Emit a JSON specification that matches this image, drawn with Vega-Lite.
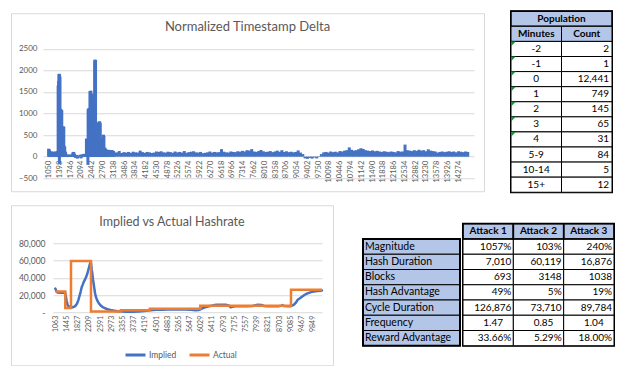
{
  "$schema": "https://vega.github.io/schema/vega-lite/v6.json",
  "padding": {"left": 10, "top": 9, "right": 0, "bottom": 0},
  "background": "white",
  "config": {"font": "Lato", "view": {"stroke": null}},
  "spacing": 10,
  "resolve": {"scale": {"color": "independent"}, "legend": {"color": "independent"}},
  "vconcat": [
    {
      "hconcat": [
        {
          "width": 473,
          "height": 178,
          "view": {"stroke": "#D9D9D9", "fill": "white"},
          "title": {"text": "Normalized Timestamp Delta", "fontSize": 13, "fontWeight": "normal", "color": "#595959", "anchor": "middle", "frame": "group", "offset": -21},
          "data": {"values": [
            {"b":1050,"v":185},{"b":1065,"v":175},{"b":1080,"v":150},{"b":1095,"v":125},{"b":1120,"v":110},{"b":1150,"v":120},{"b":1180,"v":105},{"b":1210,"v":115},{"b":1240,"v":100},{"b":1270,"v":120},{"b":1300,"v":110},{"b":1330,"v":125},{"b":1345,"v":120},
            {"b":1357,"v":1650},{"b":1372,"v":1750},{"b":1385,"v":1910},{"b":1392,"v":1920},{"b":1398,"v":-170},{"b":1405,"v":1900},{"b":1415,"v":1850},{"b":1430,"v":1100},{"b":1445,"v":1110},{"b":1460,"v":1050},{"b":1475,"v":1080},{"b":1490,"v":650},{"b":1505,"v":700},{"b":1520,"v":680},{"b":1540,"v":700},{"b":1555,"v":250},{"b":1570,"v":230},{"b":1585,"v":120},{"b":1600,"v":100},
            {"b":1620,"v":45},{"b":1650,"v":40},{"b":1680,"v":50},{"b":1710,"v":45},{"b":1740,"v":40},{"b":1770,"v":50},{"b":1800,"v":45},{"b":1830,"v":95},{"b":1850,"v":110},{"b":1870,"v":100},{"b":1890,"v":60},
            {"b":1920,"v":-30},{"b":1950,"v":40},{"b":1980,"v":-45},{"b":2010,"v":30},{"b":2040,"v":-20},{"b":2070,"v":45},{"b":2100,"v":-40},{"b":2130,"v":55},{"b":2160,"v":40},{"b":2190,"v":65},{"b":2220,"v":50},{"b":2250,"v":60},
            {"b":2270,"v":420},{"b":2285,"v":410},{"b":2300,"v":380},{"b":2318,"v":-190},{"b":2325,"v":1100},{"b":2340,"v":1120},{"b":2355,"v":1080},{"b":2370,"v":1130},{"b":2385,"v":1520},{"b":2400,"v":1500},{"b":2415,"v":1530},{"b":2430,"v":1450},{"b":2445,"v":1400},{"b":2460,"v":1460},{"b":2475,"v":1430},{"b":2490,"v":1440},{"b":2505,"v":1100},{"b":2520,"v":1050},{"b":2537,"v":2230},{"b":2550,"v":2250},{"b":2565,"v":2240},{"b":2580,"v":750},{"b":2595,"v":520},{"b":2610,"v":780},{"b":2625,"v":480},{"b":2640,"v":350},{"b":2655,"v":500},{"b":2670,"v":810},{"b":2685,"v":800},{"b":2700,"v":820},{"b":2715,"v":780},{"b":2730,"v":400},{"b":2745,"v":380},{"b":2760,"v":420},{"b":2775,"v":350},{"b":2790,"v":300},{"b":2805,"v":500},{"b":2820,"v":510},{"b":2835,"v":480},{"b":2850,"v":200},{"b":2870,"v":210},{"b":2890,"v":180},{"b":2910,"v":160},
            {"b":2940,"v":150},{"b":2970,"v":160},{"b":3000,"v":140},{"b":3030,"v":150},{"b":3060,"v":145},{"b":3090,"v":155},{"b":3120,"v":140},{"b":3150,"v":130},
            {"b":3180,"v":90},{"b":3255,"v":100},{"b":3330,"v":130},{"b":3405,"v":85},{"b":3480,"v":105},{"b":3555,"v":95},{"b":3630,"v":110},{"b":3705,"v":90},{"b":3780,"v":115},{"b":3855,"v":100},{"b":3930,"v":95},{"b":4005,"v":140},{"b":4080,"v":105},{"b":4155,"v":90},{"b":4230,"v":110},{"b":4305,"v":100},{"b":4380,"v":85},{"b":4455,"v":95},{"b":4530,"v":120},{"b":4605,"v":110},{"b":4680,"v":125},{"b":4755,"v":100},{"b":4830,"v":95},{"b":4905,"v":115},{"b":4980,"v":105},{"b":5055,"v":90},{"b":5130,"v":120},{"b":5205,"v":100},{"b":5280,"v":110},{"b":5355,"v":95},{"b":5430,"v":130},{"b":5505,"v":90},{"b":5580,"v":105},{"b":5655,"v":115},{"b":5730,"v":125},{"b":5805,"v":100},{"b":5880,"v":95},{"b":5955,"v":110},{"b":6030,"v":80},{"b":6105,"v":90},{"b":6180,"v":100},{"b":6255,"v":120},{"b":6330,"v":95},{"b":6405,"v":110},{"b":6480,"v":100},{"b":6555,"v":105},{"b":6630,"v":175},{"b":6705,"v":115},{"b":6780,"v":100},{"b":6855,"v":95},{"b":6930,"v":120},{"b":7005,"v":110},{"b":7080,"v":105},{"b":7155,"v":125},{"b":7230,"v":115},{"b":7305,"v":135},{"b":7380,"v":120},{"b":7455,"v":150},{"b":7530,"v":140},{"b":7605,"v":175},{"b":7680,"v":120},{"b":7755,"v":110},{"b":7830,"v":130},{"b":7905,"v":155},{"b":7980,"v":125},{"b":8055,"v":110},{"b":8130,"v":115},{"b":8205,"v":130},{"b":8280,"v":105},{"b":8355,"v":120},{"b":8430,"v":140},{"b":8505,"v":115},{"b":8580,"v":150},{"b":8655,"v":110},{"b":8730,"v":125},{"b":8805,"v":105},{"b":8880,"v":115},{"b":8955,"v":100},{"b":9030,"v":110},{"b":9105,"v":145},{"b":9180,"v":95},{"b":9255,"v":60},
            {"b":9330,"v":-40},{"b":9405,"v":-50},{"b":9480,"v":-30},{"b":9555,"v":-45},{"b":9630,"v":-20},{"b":9705,"v":-40},{"b":9780,"v":10},{"b":9855,"v":60},
            {"b":9930,"v":100},{"b":10005,"v":110},{"b":10080,"v":95},{"b":10155,"v":120},{"b":10230,"v":105},{"b":10305,"v":115},{"b":10380,"v":100},{"b":10455,"v":130},{"b":10530,"v":120},{"b":10605,"v":140},{"b":10680,"v":150},{"b":10755,"v":215},{"b":10830,"v":160},{"b":10905,"v":140},{"b":10980,"v":150},{"b":11055,"v":170},{"b":11130,"v":195},{"b":11205,"v":180},{"b":11280,"v":150},{"b":11355,"v":140},{"b":11430,"v":130},{"b":11505,"v":145},{"b":11580,"v":125},{"b":11655,"v":135},{"b":11730,"v":120},{"b":11805,"v":110},{"b":11880,"v":125},{"b":11955,"v":115},{"b":12030,"v":105},{"b":12105,"v":120},{"b":12180,"v":110},{"b":12255,"v":100},{"b":12330,"v":130},{"b":12405,"v":115},{"b":12480,"v":120},{"b":12555,"v":280},{"b":12630,"v":150},{"b":12705,"v":140},{"b":12780,"v":130},{"b":12855,"v":150},{"b":12930,"v":135},{"b":13005,"v":160},{"b":13080,"v":140},{"b":13155,"v":150},{"b":13230,"v":125},{"b":13305,"v":170},{"b":13380,"v":140},{"b":13455,"v":130},{"b":13530,"v":120},{"b":13605,"v":95},{"b":13680,"v":110},{"b":13755,"v":120},{"b":13830,"v":105},{"b":13905,"v":115},{"b":13980,"v":125},{"b":14055,"v":110},{"b":14130,"v":120},{"b":14205,"v":100},{"b":14280,"v":125},{"b":14355,"v":115},{"b":14430,"v":105},{"b":14505,"v":120},{"b":14580,"v":110}
          ]},
          "mark": {"type": "bar", "width": 3, "color": "#4472C4"},
          "encoding": {
            "x": {"field": "b", "type": "quantitative",
              "scale": {"domain": [1030, 14620], "range": [32, 463], "nice": false, "zero": false},
              "axis": {"title": null, "values": [1050,1398,1746,2094,2442,2790,3138,3486,3834,4182,4530,4878,5226,5574,5922,6270,6618,6966,7314,7662,8010,8358,8706,9054,9402,9750,10098,10446,10794,11142,11490,11838,12186,12534,12882,13230,13578,13926,14274],
                "format": "d", "labelAngle": -90, "offset": -34, "domain": false, "ticks": false, "grid": false,
                "labelFontSize": 7.5, "labelColor": "#595959", "labelPadding": 3, "labelOverlap": false, "labelFlush": false, "labelBound": false}},
            "y": {"field": "v", "type": "quantitative",
              "scale": {"domain": [-500, 2500], "range": [165, 35.5], "nice": false, "zero": false},
              "axis": {"title": null, "values": [-500,0,500,1000,1500,2000,2500], "format": "d", "offset": -28, "domain": false, "ticks": false,
                "grid": true, "gridColor": "#D9D9D9", "labelFontSize": 8, "labelColor": "#595959", "labelPadding": 2}},
            "y2": {"datum": 0}
          }
        },
        {
          "width": 101,
          "height": 181,
          "view": {"stroke": "black", "strokeWidth": 2},
          "data": {"values": [
            {"r":"Population","c":"Span","t":"Population"},
            {"r":"Header","c":"Minutes","t":"Minutes"},{"r":"Header","c":"Count","t":"Count"},
            {"r":"-2","c":"Minutes","t":"-2"},{"r":"-2","c":"Count","t":"2"},
            {"r":"-1","c":"Minutes","t":"-1"},{"r":"-1","c":"Count","t":"1"},
            {"r":"0","c":"Minutes","t":"0"},{"r":"0","c":"Count","t":"12,441"},
            {"r":"1","c":"Minutes","t":"1"},{"r":"1","c":"Count","t":"749"},
            {"r":"2","c":"Minutes","t":"2"},{"r":"2","c":"Count","t":"145"},
            {"r":"3","c":"Minutes","t":"3"},{"r":"3","c":"Count","t":"65"},
            {"r":"4","c":"Minutes","t":"4"},{"r":"4","c":"Count","t":"31"},
            {"r":"5-9","c":"Minutes","t":"5-9"},{"r":"5-9","c":"Count","t":"84"},
            {"r":"10-14","c":"Minutes","t":"10-14"},{"r":"10-14","c":"Count","t":"5"},
            {"r":"15+","c":"Minutes","t":"15+"},{"r":"15+","c":"Count","t":"12"}
          ]},
          "encoding": {
            "y": {"field": "r", "type": "nominal", "axis": null,
              "scale": {"domain": ["Population","Header","-2","-1","0","1","2","3","4","5-9","10-14","15+"], "paddingInner": 0, "paddingOuter": 0}}
          },
          "layer": [
            {"transform": [{"filter": "datum.c === 'Span'"}],
             "mark": {"type": "rect", "fill": "#B4C6E7", "stroke": "black", "strokeWidth": 1.5}},
            {"transform": [{"filter": "datum.c === 'Span'"}],
             "mark": {"type": "text", "fontWeight": "bold", "fontSize": 10, "color": "black"},
             "encoding": {"text": {"field": "t"}}},
            {"transform": [{"filter": "datum.c !== 'Span'"}],
             "mark": {"type": "rect", "stroke": "black", "strokeWidth": 1},
             "encoding": {
               "x": {"field": "c", "type": "nominal", "axis": null, "scale": {"domain": ["Minutes","Count"], "paddingInner": 0, "paddingOuter": 0}},
               "fill": {"condition": {"test": "datum.r === 'Header'", "value": "#B4C6E7"}, "value": "white"}}},
            {"transform": [{"filter": "datum.c === 'Minutes' && (datum.r === '-2' || datum.r === '-1' || datum.r === '0' || datum.r === '1' || datum.r === '2' || datum.r === '3' || datum.r === '4')"}],
             "mark": {"type": "point", "shape": "M0,0L1,0L0,1Z", "filled": true, "size": 90, "fill": "#1A8F3C", "fillOpacity": 1, "opacity": 1, "strokeWidth": 0},
             "encoding": {"x": {"field": "c", "type": "nominal", "bandPosition": 0}, "y": {"field": "r", "type": "nominal", "bandPosition": 0}}},
            {"transform": [{"filter": "datum.r === 'Header'"}],
             "mark": {"type": "text", "fontWeight": "bold", "fontSize": 10, "color": "black"},
             "encoding": {"x": {"field": "c", "type": "nominal"}, "text": {"field": "t"}}},
            {"transform": [{"filter": "datum.c === 'Minutes' && datum.r !== 'Header'"}],
             "mark": {"type": "text", "fontSize": 10, "color": "black"},
             "encoding": {"x": {"field": "c", "type": "nominal"}, "text": {"field": "t"}}},
            {"transform": [{"filter": "datum.c === 'Count' && datum.r !== 'Header'"}],
             "mark": {"type": "text", "fontSize": 10, "color": "black", "align": "right", "dx": -3},
             "encoding": {"x": {"field": "c", "type": "nominal", "bandPosition": 1}, "text": {"field": "t"}}}
          ]
        }
      ],
      "spacing": 24,
      "center": true
    },
    {
      "hconcat": [
        {
          "width": 322,
          "height": 160,
          "view": {"stroke": "#D9D9D9", "fill": "white"},
          "title": {"text": "Implied vs Actual Hashrate", "fontSize": 12.5, "fontWeight": "normal", "color": "#595959", "anchor": "middle", "frame": "group", "offset": -23},
          "data": {"values": [
            {"s":"Implied","b":1063,"v":27500},{"s":"Implied","b":1100,"v":24500},{"s":"Implied","b":1145,"v":22800},{"s":"Implied","b":1250,"v":22500},{"s":"Implied","b":1350,"v":22500},{"s":"Implied","b":1404,"v":22000},{"s":"Implied","b":1430,"v":17000},{"s":"Implied","b":1452,"v":13000},{"s":"Implied","b":1486,"v":8000},{"s":"Implied","b":1541,"v":6500},{"s":"Implied","b":1600,"v":5800},{"s":"Implied","b":1657,"v":5800},{"s":"Implied","b":1735,"v":6800},{"s":"Implied","b":1803,"v":9800},{"s":"Implied","b":1850,"v":14000},{"s":"Implied","b":1882,"v":18000},{"s":"Implied","b":1930,"v":24000},{"s":"Implied","b":1964,"v":29000},{"s":"Implied","b":2000,"v":32000},{"s":"Implied","b":2032,"v":35000},{"s":"Implied","b":2070,"v":37500},{"s":"Implied","b":2111,"v":40500},{"s":"Implied","b":2150,"v":44000},{"s":"Implied","b":2190,"v":49000},{"s":"Implied","b":2230,"v":54000},{"s":"Implied","b":2258,"v":57500},{"s":"Implied","b":2275,"v":58500},{"s":"Implied","b":2290,"v":55000},{"s":"Implied","b":2305,"v":50000},{"s":"Implied","b":2330,"v":44000},{"s":"Implied","b":2350,"v":38000},{"s":"Implied","b":2394,"v":28000},{"s":"Implied","b":2420,"v":22000},{"s":"Implied","b":2452,"v":17500},{"s":"Implied","b":2490,"v":14000},{"s":"Implied","b":2531,"v":11500},{"s":"Implied","b":2580,"v":9000},{"s":"Implied","b":2623,"v":7500},{"s":"Implied","b":2680,"v":6000},{"s":"Implied","b":2735,"v":5000},{"s":"Implied","b":2820,"v":3800},{"s":"Implied","b":2906,"v":3000},{"s":"Implied","b":3000,"v":2200},{"s":"Implied","b":3077,"v":1800},{"s":"Implied","b":3200,"v":1200},{"s":"Implied","b":3350,"v":800},{"s":"Implied","b":3500,"v":600},{"s":"Implied","b":3700,"v":700},{"s":"Implied","b":3900,"v":1000},{"s":"Implied","b":4100,"v":1500},{"s":"Implied","b":4300,"v":2200},{"s":"Implied","b":4500,"v":2800},{"s":"Implied","b":4700,"v":3000},{"s":"Implied","b":4900,"v":3100},{"s":"Implied","b":5100,"v":3200},{"s":"Implied","b":5300,"v":3200},{"s":"Implied","b":5500,"v":3100},{"s":"Implied","b":5700,"v":2800},{"s":"Implied","b":5850,"v":2300},{"s":"Implied","b":5950,"v":2500},{"s":"Implied","b":6029,"v":3500},{"s":"Implied","b":6100,"v":4800},{"s":"Implied","b":6200,"v":6000},{"s":"Implied","b":6300,"v":7000},{"s":"Implied","b":6400,"v":7500},{"s":"Implied","b":6485,"v":8300},{"s":"Implied","b":6600,"v":8700},{"s":"Implied","b":6750,"v":8800},{"s":"Implied","b":6900,"v":8600},{"s":"Implied","b":6980,"v":7800},{"s":"Implied","b":7050,"v":5800},{"s":"Implied","b":7100,"v":6500},{"s":"Implied","b":7200,"v":7000},{"s":"Implied","b":7400,"v":7000},{"s":"Implied","b":7600,"v":7100},{"s":"Implied","b":7800,"v":7200},{"s":"Implied","b":7900,"v":8200},{"s":"Implied","b":7970,"v":8600},{"s":"Implied","b":8100,"v":8500},{"s":"Implied","b":8180,"v":7300},{"s":"Implied","b":8300,"v":7000},{"s":"Implied","b":8500,"v":7000},{"s":"Implied","b":8700,"v":7100},{"s":"Implied","b":8780,"v":7500},{"s":"Implied","b":8823,"v":8300},{"s":"Implied","b":8860,"v":7200},{"s":"Implied","b":9000,"v":7000},{"s":"Implied","b":9107,"v":7000},{"s":"Implied","b":9200,"v":8500},{"s":"Implied","b":9280,"v":11500},{"s":"Implied","b":9336,"v":14500},{"s":"Implied","b":9400,"v":16000},{"s":"Implied","b":9480,"v":18000},{"s":"Implied","b":9564,"v":20000},{"s":"Implied","b":9650,"v":21500},{"s":"Implied","b":9720,"v":22500},{"s":"Implied","b":9791,"v":23300},{"s":"Implied","b":9880,"v":24000},{"s":"Implied","b":10000,"v":24500},{"s":"Implied","b":10100,"v":25000},{"s":"Implied","b":10165,"v":25200},
            {"s":"Actual","b":1063,"v":24000},{"s":"Actual","b":1404,"v":5000},{"s":"Actual","b":1599,"v":59500},{"s":"Actual","b":2281,"v":800},{"s":"Actual","b":3300,"v":2200},{"s":"Actual","b":4290,"v":4200},{"s":"Actual","b":6012,"v":7500},{"s":"Actual","b":9107,"v":26000},{"s":"Actual","b":10165,"v":26000}
          ]},
          "encoding": {
            "x": {"field": "b", "type": "quantitative",
              "scale": {"domain": [985, 10165], "range": [42, 311], "nice": false, "zero": false},
              "axis": {"title": null, "values": [1063,1445,1827,2209,2591,2973,3355,3737,4119,4501,4883,5265,5647,6029,6411,6793,7175,7557,7939,8321,8703,9085,9467,9849],
                "format": "d", "labelAngle": -90, "offset": -53, "domain": false, "ticks": false, "grid": false,
                "labelFontSize": 7, "labelColor": "#595959", "labelPadding": 3, "labelOverlap": false, "labelFlush": false, "labelBound": false}},
            "y": {"field": "v", "type": "quantitative",
              "scale": {"domain": [0, 80000], "range": [107, 38], "nice": false, "zero": false},
              "axis": {"title": null, "values": [0,20000,40000,60000,80000], "offset": -36, "domain": false, "ticks": false,
                "labelExpr": "datum.value === 0 ? '-     ' : format(datum.value, ',')",
                "grid": true, "gridColor": "#D9D9D9", "labelFontSize": 8.5, "labelColor": "#595959", "labelPadding": 2}},
            "color": {"field": "s", "type": "nominal",
              "scale": {"domain": ["Implied","Actual"], "range": ["#4472C4","#ED7D31"]},
              "legend": {"title": null, "orient": "none", "legendX": 113, "legendY": 138, "direction": "horizontal",
                "symbolType": "stroke", "symbolSize": 400, "symbolStrokeWidth": 3, "labelFontSize": 8.5, "labelColor": "#595959",
                "columnPadding": 6, "labelOffset": 2}}
          },
          "layer": [
            {"transform": [{"filter": "datum.s === 'Implied'"}],
             "mark": {"type": "line", "strokeWidth": 2.5, "strokeCap": "round", "strokeJoin": "round"}},
            {"transform": [{"filter": "datum.s === 'Actual'"}],
             "mark": {"type": "line", "interpolate": "step-after", "strokeWidth": 2.5}}
          ]
        },
        {
          "hconcat": [
            {
              "width": 97,
              "height": 122,
              "layer": [
                {
                  "data": {"values": [
                    {"r":"Magnitude","c":"Label"},{"r":"Hash Duration","c":"Label"},{"r":"Blocks","c":"Label"},{"r":"Hash Advantage","c":"Label"},{"r":"Cycle Duration","c":"Label"},{"r":"Frequency","c":"Label"},{"r":"Reward Advantage","c":"Label"}
                  ]},
                  "encoding": {
                    "y": {"field": "r", "type": "nominal", "axis": null,
                      "scale": {"domain": ["H","Magnitude","Hash Duration","Blocks","Hash Advantage","Cycle Duration","Frequency","Reward Advantage"], "paddingInner": 0, "paddingOuter": 0}},
                    "x": {"field": "c", "type": "nominal", "axis": null, "scale": {"domain": ["Label"], "paddingInner": 0, "paddingOuter": 0}}
                  },
                  "layer": [
                    {"mark": {"type": "rect", "fill": "#B4C6E7", "stroke": "black", "strokeWidth": 1}},
                    {"mark": {"type": "text", "align": "left", "dx": 2, "fontSize": 10.5, "color": "black"},
                     "encoding": {"x": {"field": "c", "type": "nominal", "bandPosition": 0}, "text": {"field": "r"}}}
                  ]
                },
                {
                  "data": {"values": [{"r1": "Magnitude", "r2": "Reward Advantage"}]},
                  "mark": {"type": "rect", "fill": null, "fillOpacity": 0, "stroke": "black", "strokeWidth": 2},
                  "encoding": {
                    "y": {"field": "r1", "type": "nominal", "bandPosition": 0},
                    "y2": {"field": "r2", "bandPosition": 1}
                  }
                }
              ]
            },
            {
              "width": 151,
              "height": 122,
              "view": {"stroke": "black", "strokeWidth": 2},
              "data": {"values": [
                {"r":"H","c":"Attack 1","t":"Attack 1"},{"r":"H","c":"Attack 2","t":"Attack 2"},{"r":"H","c":"Attack 3","t":"Attack 3"},
                {"r":"Magnitude","c":"Attack 1","t":"1057%"},{"r":"Magnitude","c":"Attack 2","t":"103%"},{"r":"Magnitude","c":"Attack 3","t":"240%"},
                {"r":"Hash Duration","c":"Attack 1","t":"7,010"},{"r":"Hash Duration","c":"Attack 2","t":"60,119"},{"r":"Hash Duration","c":"Attack 3","t":"16,876"},
                {"r":"Blocks","c":"Attack 1","t":"693"},{"r":"Blocks","c":"Attack 2","t":"3148"},{"r":"Blocks","c":"Attack 3","t":"1038"},
                {"r":"Hash Advantage","c":"Attack 1","t":"49%"},{"r":"Hash Advantage","c":"Attack 2","t":"5%"},{"r":"Hash Advantage","c":"Attack 3","t":"19%"},
                {"r":"Cycle Duration","c":"Attack 1","t":"126,876"},{"r":"Cycle Duration","c":"Attack 2","t":"73,710"},{"r":"Cycle Duration","c":"Attack 3","t":"89,784"},
                {"r":"Frequency","c":"Attack 1","t":"1.47"},{"r":"Frequency","c":"Attack 2","t":"0.85"},{"r":"Frequency","c":"Attack 3","t":"1.04"},
                {"r":"Reward Advantage","c":"Attack 1","t":"33.66%"},{"r":"Reward Advantage","c":"Attack 2","t":"5.29%"},{"r":"Reward Advantage","c":"Attack 3","t":"18.00%"}
              ]},
              "encoding": {
                "y": {"field": "r", "type": "nominal", "axis": null,
                  "scale": {"domain": ["H","Magnitude","Hash Duration","Blocks","Hash Advantage","Cycle Duration","Frequency","Reward Advantage"], "paddingInner": 0, "paddingOuter": 0}},
                "x": {"field": "c", "type": "nominal", "axis": null, "scale": {"domain": ["Attack 1","Attack 2","Attack 3"], "paddingInner": 0, "paddingOuter": 0}}
              },
              "layer": [
                {"mark": {"type": "rect", "stroke": "black", "strokeWidth": 1},
                 "encoding": {"fill": {"condition": {"test": "datum.r === 'H'", "value": "#B4C6E7"}, "value": "white"}}},
                {"transform": [{"filter": "datum.r === 'H'"}],
                 "mark": {"type": "rect", "fill": null, "fillOpacity": 0, "stroke": "black", "strokeWidth": 1.5}},
                {"transform": [{"filter": "datum.r === 'H'"}],
                 "mark": {"type": "text", "fontWeight": "bold", "fontSize": 10, "color": "black"},
                 "encoding": {"text": {"field": "t"}}},
                {"transform": [{"filter": "datum.r !== 'H' && datum.r !== 'Frequency'"}],
                 "mark": {"type": "text", "align": "right", "dx": -2, "fontSize": 10, "color": "black"},
                 "encoding": {"x": {"field": "c", "type": "nominal", "bandPosition": 1}, "text": {"field": "t"}}},
                {"transform": [{"filter": "datum.r === 'Frequency'"}],
                 "mark": {"type": "text", "dx": 5, "fontSize": 10, "color": "black"},
                 "encoding": {"text": {"field": "t"}}}
              ]
            }
          ],
          "spacing": 0
        }
      ],
      "spacing": 28,
      "center": true,
      "resolve": {"scale": {"color": "independent"}, "legend": {"color": "independent"}}
    }
  ]
}
